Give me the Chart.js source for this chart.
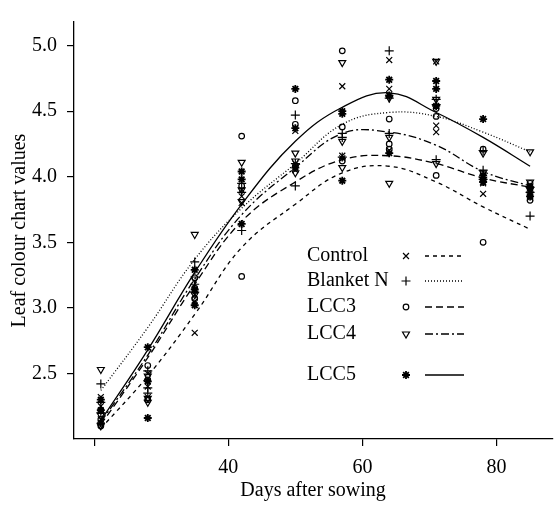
<!DOCTYPE html>
<html>
<head>
<meta charset="utf-8">
<script src="https://cdn.jsdelivr.net/npm/chart.js@4"></script>
<style>
  html, body { margin: 0; padding: 0; background: #fff; }
  #wrap { width: 558px; height: 506px; }
</style>
</head>
<body>
<div id="wrap"><canvas id="lccChart"></canvas></div>
<script>
// Sampling days
const days = [21, 28, 35, 42, 50, 57, 64, 71, 78, 85];

// Observed values (3 replicates per day)
const controlObs = [[2.32, 2.25, 2.15], [2.50, 2.40, 2.32], [2.81, 3.10, 3.05], [3.90, 3.85, 3.80], [4.35, 4.10, 4.05],
  [4.69, 4.14, 4.16], [4.89, 4.67, 4.20], [4.88, 4.39, 4.34], [3.87, 3.95, 4.00], [3.90, 3.86, 3.84]];
const blanketObs = [[2.42, 2.28, 2.20], [2.52, 2.39, 2.35], [3.35, 3.18, 3.12], [3.59, 3.95, 3.88], [4.47, 4.10, 3.93],
  [4.33, 4.30, 4.15], [4.96, 4.33, 4.60], [4.13, 4.55, 4.59], [4.05, 4.20, 3.98], [3.70, 3.92, 3.88]];
const lcc3Obs = [[2.22, 2.15, 2.10], [2.56, 2.45, 2.30], [3.23, 3.15, 3.07], [4.31, 3.93, 3.24], [4.58, 4.40, 4.08],
  [4.96, 4.38, 4.12], [4.44, 4.25, 4.21], [4.46, 4.01, 4.52], [3.50, 4.21, 3.97], [3.82, 3.92, 3.95]];
const lcc4Obs = [[2.53, 2.18, 2.10], [2.48, 2.31, 2.28], [3.56, 3.22, 3.10], [4.11, 3.90, 3.81], [4.18, 4.12, 4.03],
  [4.87, 4.27, 4.07], [3.95, 4.60, 4.30], [4.88, 4.59, 4.10], [4.18, 4.03, 3.98], [4.19, 3.96, 3.90]];
const lcc5Obs = [[2.30, 2.22, 2.12], [2.70, 2.44, 2.16], [3.29, 3.14, 3.02], [4.04, 3.98, 3.64], [4.67, 4.37, 4.07],
  [4.50, 4.48, 3.97], [4.74, 4.62, 4.18], [4.73, 4.67, 4.54], [4.44, 4.01, 3.96], [3.92, 3.88, 3.85]];

// Smoothed fits
const controlFit = [2.08, 2.48, 2.95, 3.46, 3.79, 4.03, 4.08, 3.96, 3.77, 3.60];
const blanketFit = [2.37, 2.85, 3.37, 3.76, 4.10, 4.40, 4.49, 4.46, 4.34, 4.19];
const lcc3Fit = [2.11, 2.62, 3.18, 3.66, 3.96, 4.13, 4.16, 4.10, 3.99, 3.92];
const lcc4Fit = [2.13, 2.64, 3.22, 3.71, 4.07, 4.33, 4.34, 4.24, 4.04, 3.93];
const lcc5Fit = [2.14, 2.68, 3.27, 3.79, 4.27, 4.53, 4.64, 4.49, 4.30, 4.08];

// Axis ticks
const xTicks = [20, 40, 60, 80];
const yTicks = [2.5, 3.0, 3.5, 4.0, 4.5, 5.0];

const treatments = [
  { label: "Control", obs: controlObs, fit: controlFit, style: "crossRot", rot: 0, dash: [4, 4], r: 4.2 },
  { label: "Blanket N", obs: blanketObs, fit: blanketFit, style: "cross", rot: 0, dash: [1, 2], r: 4.5 },
  { label: "LCC3", obs: lcc3Obs, fit: lcc3Fit, style: "circle", rot: 0, dash: [7, 4], r: 2.8 },
  { label: "LCC4", obs: lcc4Obs, fit: lcc4Fit, style: "triangle", rot: 180, dash: [8, 3, 2, 3], r: 4 },
  { label: "LCC5", obs: lcc5Obs, fit: lcc5Fit, style: "star", rot: 0, dash: [], r: 4 }
];

const FONT = "'Liberation Serif', 'Times New Roman', serif";

const datasets = [];
treatments.forEach(t => {
  const pts = [];
  days.forEach((d, i) => t.obs[i].forEach(v => pts.push({ x: d, y: v })));
  datasets.push({
    type: "scatter",
    label: t.label,
    data: pts,
    pointStyle: t.style,
    rotation: t.rot,
    radius: t.r,
    borderColor: "#000",
    backgroundColor: "rgba(0,0,0,0)",
    borderWidth: t.style === "star" ? 1.8 : 1.2
  });
  datasets.push({
    type: "line",
    label: t.label + " fit",
    data: days.map((d, i) => ({ x: d, y: t.fit[i] })),
    borderColor: "#000",
    borderWidth: 1.3,
    borderDash: t.dash,
    pointRadius: 0,
    fill: false,
    tension: 0.4
  });
});

// legend drawn inside the plot
const legendPlugin = {
  id: "inPlotLegend",
  afterDatasetsDraw(chart) {
    const ctx = chart.ctx;
    const rows = [256, 281, 307, 334, 375];
    ctx.save();
    ctx.strokeStyle = "#000";
    ctx.font = "20px " + FONT;
    ctx.textBaseline = "middle";
    treatments.forEach((t, i) => {
      const y = rows[i];
      ctx.fillStyle = "#000";
      ctx.fillText(t.label, 307, y);
      ctx.fillStyle = "rgba(0,0,0,0)";
      ctx.lineWidth = t.style === "star" ? 1.8 : 1.2;
      ctx.setLineDash([]);
      Chart.helpers.drawPoint(ctx, { pointStyle: t.style, radius: t.r, rotation: t.rot, borderWidth: ctx.lineWidth }, 406, y);
      ctx.lineWidth = 1.3;
      ctx.setLineDash(t.dash);
      ctx.beginPath();
      ctx.moveTo(425, y);
      ctx.lineTo(464, y);
      ctx.stroke();
    });
    ctx.restore();
  }
};

new Chart(document.getElementById("lccChart"), {
  data: { datasets },
  plugins: [legendPlugin],
  options: {
    responsive: true,
    maintainAspectRatio: false,
    animation: false,
    layout: { padding: { top: 10, right: 0, left: 0, bottom: 0 } },
    plugins: { legend: { display: false }, tooltip: { enabled: false } },
    scales: {
      x: {
        type: "linear",
        min: 17,
        max: 88.3,
        afterBuildTicks: s => { s.ticks = xTicks.map(v => ({ value: v })); },
        afterFit: s => { s.height = 67; },
        ticks: {
          color: "#000",
          font: { family: FONT, size: 20 },
          padding: 10,
          maxRotation: 0,
          callback: v => (v === 20 ? "" : v)
        },
        grid: { drawOnChartArea: false, drawTicks: true, tickLength: 7, color: "#000", lineWidth: 1.2 },
        border: { color: "#000", width: 1.3 },
        title: { display: true, text: "Days after sowing", color: "#000", font: { family: FONT, size: 20 }, padding: { top: 0, bottom: 3 } }
      },
      y: {
        min: 2.0,
        max: 5.18,
        afterBuildTicks: s => { s.ticks = yTicks.map(v => ({ value: v })); },
        afterFit: s => { s.width = 74; },
        ticks: {
          color: "#000",
          font: { family: FONT, size: 20 },
          padding: 10,
          callback: v => Number(v).toFixed(1)
        },
        grid: { drawOnChartArea: false, drawTicks: true, tickLength: 7, color: "#000", lineWidth: 1.2 },
        border: { color: "#000", width: 1.3 },
        title: { display: true, text: "Leaf colour chart values", color: "#000", font: { family: FONT, size: 20 }, padding: { top: 8, bottom: 0 } }
      }
    }
  }
});
</script>
</body>
</html>
